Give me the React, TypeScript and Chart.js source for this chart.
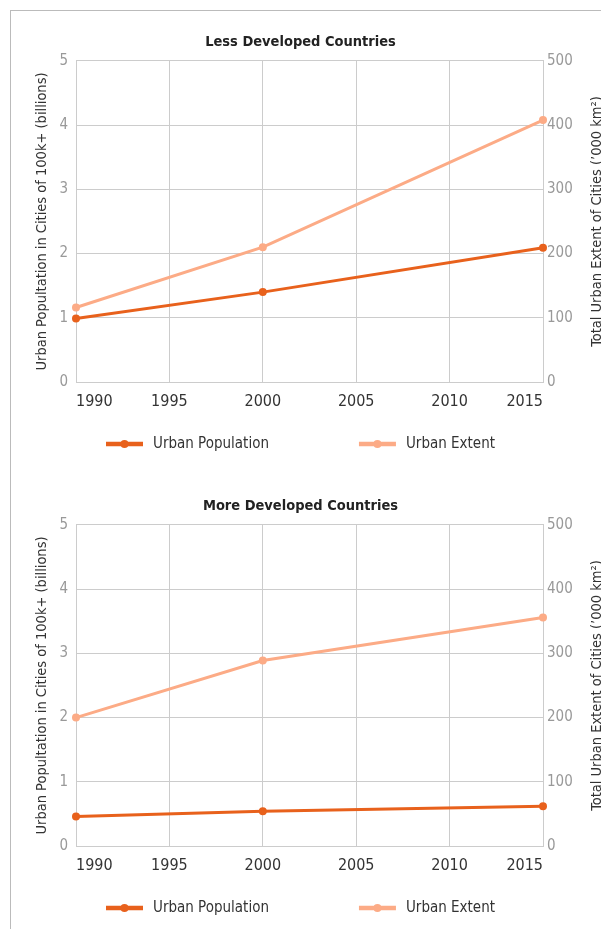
import React, { useEffect, useRef } from "react";
import { Chart, registerables } from "chart.js";

Chart.register(...registerables);

// ---- data ----
const years = [1990, 2000, 2015];
const xTickValues = [1990, 1995, 2000, 2005, 2010, 2015];
const popTickValues = [0, 1, 2, 3, 4, 5];
const extentTickValues = [0, 100, 200, 300, 400, 500];

const lessPopulation = [0.99, 1.4, 2.09];
const lessExtent = [116, 210, 408];
const morePopulation = [0.46, 0.54, 0.62];
const moreExtent = [200, 289, 356];

const chartTitles = ["Less Developed Countries", "More Developed Countries"];
const seriesLabels = ["Urban Population", "Urban Extent"];
const leftAxisTitle = "Urban Popultation in Cities of 100k+ (billions)";
const rightAxisTitle = "Total Urban Extent of Cities (\u2019000 km\u00B2)";

// ---- styles ----
const FONT = "'Liberation Sans Narrow', 'DejaVu Sans Condensed', 'Roboto', sans-serif";
const POP_COLOR = "#E8611C";
const EXT_COLOR = "#FCAB86";
const GRID = "#cccccc";
const W = 601;
const H = 464;

const rightTitlePlugin = {
  id: "rightTitle",
  afterDraw(chart: any) {
    const ctx = chart.ctx;
    const sc = chart.scales.y1;
    const area = chart.chartArea;
    ctx.save();
    ctx.font = `14.5px ${FONT}`;
    ctx.fillStyle = "#333";
    ctx.textAlign = "center";
    ctx.textBaseline = "middle";
    ctx.translate(sc.right - 4, (area.top + area.bottom) / 2);
    ctx.rotate(-Math.PI / 2);
    ctx.fillText(rightAxisTitle, 0, 0);
    ctx.restore();
  },
};

const legendPlugin = {
  id: "lineLegend",
  afterDraw(chart: any) {
    const ctx = chart.ctx;
    ctx.save();
    ctx.font = `15px ${FONT}`;
    const markerW = 37;
    const textGap = 10;
    const itemGap = 90;
    const items = chart.data.datasets.map((ds: any) => ({
      label: ds.label,
      color: ds.borderColor,
      w: markerW + textGap + ctx.measureText(ds.label).width,
    }));
    const total = items.reduce((s: number, it: any) => s + it.w, 0) + itemGap * (items.length - 1);
    let x = (chart.width - total) / 2;
    const y = chart.chartArea.bottom + 62;
    items.forEach((it: any) => {
      ctx.strokeStyle = it.color;
      ctx.lineWidth = 4.5;
      ctx.beginPath();
      ctx.moveTo(x, y);
      ctx.lineTo(x + markerW, y);
      ctx.stroke();
      ctx.fillStyle = it.color;
      ctx.beginPath();
      ctx.arc(x + markerW / 2, y, 4, 0, Math.PI * 2);
      ctx.fill();
      ctx.fillStyle = "#333";
      ctx.textAlign = "left";
      ctx.textBaseline = "middle";
      ctx.fillText(it.label, x + markerW + textGap, y);
      x += it.w + itemGap;
    });
    ctx.restore();
  },
};

function Panel({ top, title, pop, ext }: { top: number; title: string; pop: number[]; ext: number[] }) {
  const ref = useRef<HTMLCanvasElement>(null);
  useEffect(() => {
    if (!ref.current) return;
    const chart = new Chart(ref.current, {
      type: "line",
      data: {
        datasets: [
          {
            label: seriesLabels[0],
            data: years.map((x, i) => ({ x, y: pop[i] })),
            borderColor: POP_COLOR,
            backgroundColor: POP_COLOR,
            borderWidth: 3,
            pointRadius: 4,
            pointHoverRadius: 4,
            pointBorderWidth: 0,
            yAxisID: "y",
            clip: false,
          },
          {
            label: seriesLabels[1],
            data: years.map((x, i) => ({ x, y: ext[i] })),
            borderColor: EXT_COLOR,
            backgroundColor: EXT_COLOR,
            borderWidth: 3,
            pointRadius: 4,
            pointHoverRadius: 4,
            pointBorderWidth: 0,
            yAxisID: "y1",
            clip: false,
          },
        ],
      } as any,
      options: {
        responsive: false,
        animation: false,
        events: [],
        layout: { padding: { top: 0, left: 0, right: 0, bottom: 42 } },
        plugins: {
          legend: { display: false },
          tooltip: { enabled: false },
          title: {
            display: true,
            text: title,
            color: "#222",
            font: { family: FONT, size: 14.5, weight: "bold" },
            padding: { top: 33.3, bottom: 10.3 },
          },
        },
        scales: {
          x: {
            type: "linear",
            min: 1990,
            max: 2015,
            afterBuildTicks: (s: any) => {
              s.ticks = xTickValues.map((v) => ({ value: v }));
            },
            afterFit: (s: any) => {
              s.height = 40;
            },
            ticks: {
              align: "inner",
              padding: 10.4,
              color: "#333",
              maxRotation: 0,
              autoSkip: false,
              font: { family: FONT, size: 16 },
              callback: (v: any) => String(v),
            },
            grid: { color: GRID, drawTicks: false, lineWidth: 1 },
            border: { color: GRID },
          },
          y: {
            type: "linear",
            position: "left",
            min: 0,
            max: 5,
            afterBuildTicks: (s: any) => {
              s.ticks = popTickValues.map((v) => ({ value: v }));
            },
            afterFit: (s: any) => {
              s.width = 76;
            },
            ticks: { padding: 8, color: "#999", font: { family: FONT, size: 15 } },
            grid: { color: GRID, drawTicks: false, lineWidth: 1 },
            border: { color: GRID },
            title: {
              display: true,
              text: leftAxisTitle,
              color: "#333",
              font: { family: FONT, size: 14.5 },
              padding: { top: 33.3, bottom: 0 },
            },
          },
          y1: {
            type: "linear",
            position: "right",
            min: 0,
            max: 500,
            afterBuildTicks: (s: any) => {
              s.ticks = extentTickValues.map((v) => ({ value: v }));
            },
            afterFit: (s: any) => {
              s.width = 58;
            },
            ticks: { padding: 4, color: "#999", font: { family: FONT, size: 15 } },
            grid: { display: false, drawTicks: false },
            border: { display: true, color: GRID },
          },
        },
      } as any,
      plugins: [rightTitlePlugin, legendPlugin],
    });
    return () => chart.destroy();
  }, [title, pop, ext]);
  return (
    <div style={{ position: "absolute", left: 0, top, width: W, height: H }}>
      <canvas ref={ref} width={W} height={H} style={{ width: W, height: H, display: "block" }} />
    </div>
  );
}

export default function App() {
  return (
    <div
      style={{
        position: "absolute",
        left: 0,
        top: 0,
        width: 601,
        height: 929,
        overflow: "hidden",
        background: "#fff",
      }}
    >
      <div
        style={{
          position: "absolute",
          left: 10,
          top: 10,
          width: 700,
          height: 1000,
          borderLeft: "1px solid #bbb",
          borderTop: "1px solid #bbb",
        }}
      />
      <Panel top={0} title={chartTitles[0]} pop={lessPopulation} ext={lessExtent} />
      <Panel top={464} title={chartTitles[1]} pop={morePopulation} ext={moreExtent} />
    </div>
  );
}
